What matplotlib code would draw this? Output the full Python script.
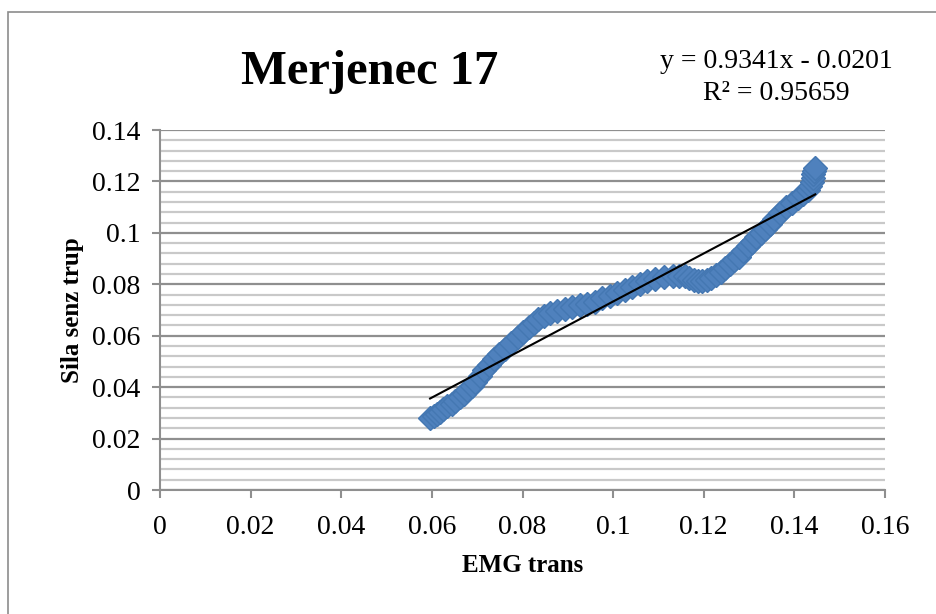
import matplotlib
matplotlib.use('Agg')
import matplotlib.pyplot as plt
from matplotlib.patches import Rectangle
from matplotlib.ticker import MultipleLocator

# values
emg_trans = [0.0596, 0.0604, 0.0611, 0.0617, 0.0625, 0.0634, 0.0644, 0.0652, 0.0661,
             0.0670, 0.0678, 0.0688, 0.0696, 0.0706, 0.0716, 0.0726, 0.0736, 0.0748,
             0.0762, 0.0775, 0.0789, 0.0802, 0.0815, 0.0825, 0.0835, 0.0848, 0.0861,
             0.0877, 0.0894, 0.0910, 0.0927, 0.0943, 0.0960, 0.0976, 0.0993, 0.1009,
             0.1026, 0.1042, 0.1059, 0.1075, 0.1092, 0.1112, 0.1132, 0.1145, 0.1158,
             0.1168, 0.1178, 0.1188, 0.1197, 0.1207, 0.1217, 0.1227, 0.1237, 0.1247,
             0.1257, 0.1267, 0.1277, 0.1287, 0.1297, 0.1306, 0.1316, 0.1326, 0.1336,
             0.1346, 0.1356, 0.1369, 0.1382, 0.1395, 0.1409, 0.1419, 0.1429, 0.1434,
             0.1438, 0.1440, 0.1442, 0.1444, 0.1446]
sila_senz = [0.0280, 0.0288, 0.0296, 0.0305, 0.0315, 0.0325, 0.0336, 0.0348, 0.0360,
             0.0374, 0.0390, 0.0405, 0.0420, 0.0443, 0.0466, 0.0488, 0.0511, 0.0530,
             0.0550, 0.0572, 0.0595, 0.0615, 0.0634, 0.0650, 0.0664, 0.0676, 0.0687,
             0.0695, 0.0702, 0.0710, 0.0718, 0.0725, 0.0733, 0.0745, 0.0756, 0.0768,
             0.0779, 0.0790, 0.0802, 0.0812, 0.0821, 0.0828, 0.0832, 0.0832, 0.0832,
             0.0825, 0.0817, 0.0814, 0.0812, 0.0817, 0.0824, 0.0835, 0.0847, 0.0862,
             0.0878, 0.0893, 0.0908, 0.0928, 0.0947, 0.0966, 0.0985, 0.1000, 0.1015,
             0.1034, 0.1053, 0.1076, 0.1099, 0.1118, 0.1137, 0.1152, 0.1168, 0.1183,
             0.1198, 0.1213, 0.1229, 0.1240, 0.1252]

slope = 0.9341
intercept = -0.0201
x_ticks = [0, 0.02, 0.04, 0.06, 0.08, 0.1, 0.12, 0.14, 0.16]
x_labels = ['0', '0.02', '0.04', '0.06', '0.08', '0.1', '0.12', '0.14', '0.16']
y_ticks = [0, 0.02, 0.04, 0.06, 0.08, 0.1, 0.12, 0.14]
y_labels = ['0', '0.02', '0.04', '0.06', '0.08', '0.1', '0.12', '0.14']

plt.rcParams['font.family'] = ['Liberation Serif', 'DejaVu Serif']

fig = plt.figure(figsize=(9.36, 6.14), dpi=100)
fig.patches.append(Rectangle((8 / 936, -0.1), 1.2, 1.1 - 12 / 614, transform=fig.transFigure,
                             fill=False, edgecolor='#8c8c8c', linewidth=1.2))
ax = fig.add_axes([160 / 936, 1 - 490 / 614, 725 / 936, 360 / 614])

ax.set_xlim(0, 0.16)
ax.set_ylim(0, 0.14)
ax.yaxis.set_minor_locator(MultipleLocator(0.004))
ax.grid(axis='y', which='minor', color='#c9c9c9', linewidth=1.6)
ax.grid(axis='y', which='major', color='#8f8f8f', linewidth=1.6)
ax.set_axisbelow(True)

ax.plot(emg_trans, sila_senz, linestyle='none', marker='D', markersize=12,
        markerfacecolor='#4F81BD', markeredgecolor='#4477B2', markeredgewidth=1, zorder=3)

x0, x1 = min(emg_trans), max(emg_trans)
ax.plot([x0, x1], [slope * x0 + intercept, slope * x1 + intercept], color='black',
        linewidth=1.5, zorder=4)

ax.set_xticks(x_ticks)
ax.set_xticklabels(x_labels)
ax.set_yticks(y_ticks)
ax.set_yticklabels(y_labels)
ax.tick_params(axis='both', which='major', labelsize=20, length=6, width=1.5, color='#8f8f8f')
ax.tick_params(axis='y', which='minor', length=0)
ax.tick_params(axis='x', pad=12)
ax.tick_params(axis='y', pad=8)

for side in ['top', 'right']:
    ax.spines[side].set_visible(False)
ax.spines['left'].set_color('#8f8f8f')
ax.spines['left'].set_linewidth(1.5)
ax.spines['bottom'].set_color('#8f8f8f')
ax.spines['bottom'].set_linewidth(1.5)

ax.set_xlabel('EMG trans', fontsize=18, fontweight='bold', labelpad=10)
ax.set_ylabel('Sila senz trup', fontsize=18, fontweight='bold', labelpad=6)

fig.text(370 / 936, 1 - 72 / 614, 'Merjenec 17', fontsize=35, fontweight='bold',
         ha='center', va='center')
fig.text(776 / 936, 1 - 62 / 614, 'y = 0.9341x - 0.0201', fontsize=20, ha='center', va='center')
fig.text(776 / 936, 1 - 94 / 614, 'R² = 0.95659', fontsize=20, ha='center', va='center')

plt.savefig('out.png', dpi=100)
